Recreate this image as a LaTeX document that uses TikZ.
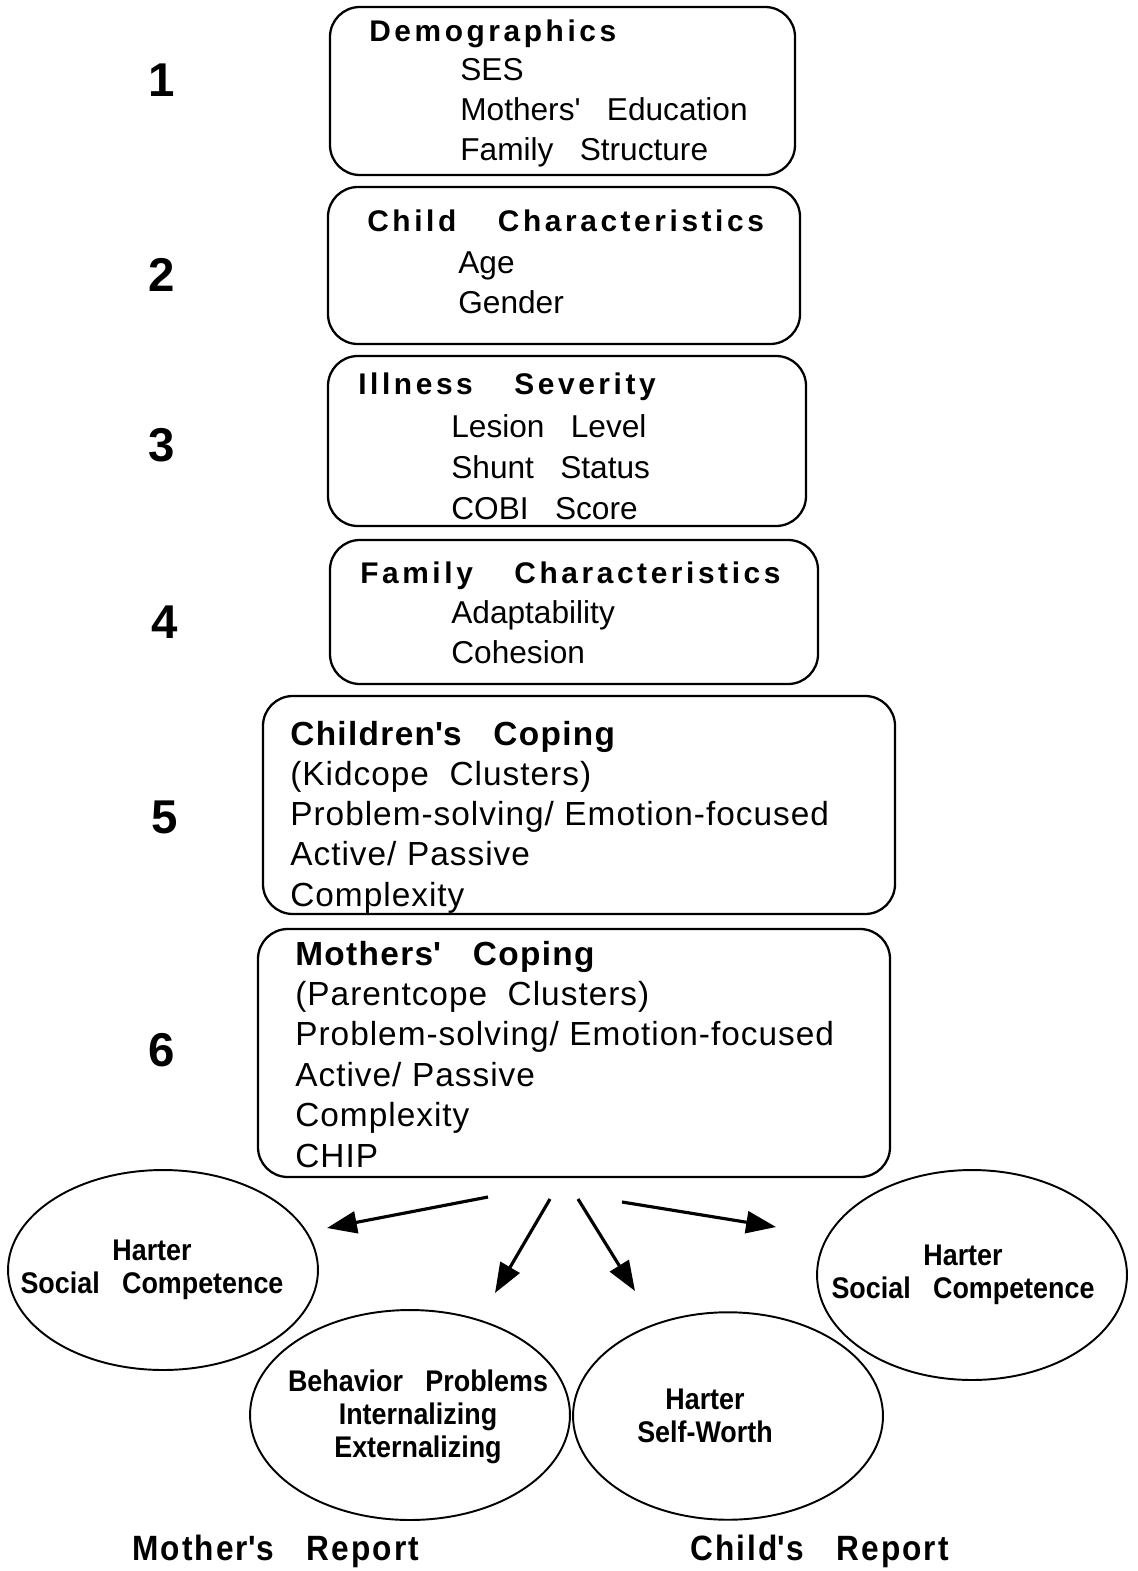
\documentclass[tikz,border=0pt]{standalone}
\usepackage{fontspec}
\setmainfont{Liberation Sans}[WordSpace=3]
\newfontfamily\headfont{Liberation Sans}[WordSpace=3.5,LetterSpace=12]
\newfontfamily\bigheadfont{Liberation Sans}[WordSpace=3,LetterSpace=4]
\newfontfamily\bigfont{Liberation Sans}[WordSpace=2,LetterSpace=3]
\newfontfamily\narrowfont{Liberation Sans}[FakeStretch=0.9,WordSpace=3]
\newfontfamily\reportfont{Liberation Sans}[FakeStretch=0.9,WordSpace=3,LetterSpace=6]
\newcommand\apos{\textquotesingle}
\usetikzlibrary{arrows.meta}
\usetikzlibrary{fit}
\usetikzlibrary{shapes.geometric}

\tikzset{
    stagebox/.style = {draw, line width=1.3pt, rounded corners=17pt, inner sep=0pt},
    stagenum/.style = {font=\fontsize{27}{30}\selectfont\bfseries},
    head/.style     = {anchor=base west, inner sep=0pt, font=\headfont\fontsize{17}{20}\selectfont\bfseries},
    item/.style     = {anchor=base west, inner sep=0pt, font=\fontsize{18}{22}\selectfont},
    bighead/.style  = {anchor=base west, inner sep=0pt, font=\bigheadfont\fontsize{19}{22}\selectfont\bfseries},
    bigitem/.style  = {anchor=base west, inner sep=0pt, font=\bigfont\fontsize{19}{22}\selectfont},
    outcome/.style  = {draw, ellipse, line width=1.1pt, inner sep=0pt},
    otext/.style    = {align=center, inner sep=0pt, font=\narrowfont\fontsize{17}{18.7}\selectfont\bfseries},
    report/.style   = {anchor=base west, inner sep=0pt, font=\reportfont\fontsize{20}{22}\selectfont\bfseries},
    link/.style     = {line width=1.8pt, -{Triangle[length=17pt,width=12.5pt]}}
}

\begin{document}
\begin{tikzpicture}[x=0.02cm, y=-0.02cm]
    \useasboundingbox (0,0) rectangle (1137,1571);

    % stages
    \node[stagebox, fit={(330,7) (795,175)}]    (demo)    {};
    \node[stagebox, fit={(328,187) (800,344)}]  (child)   {};
    \node[stagebox, fit={(328,356) (806,526)}]  (illness) {};
    \node[stagebox, fit={(330,540) (818,684)}]  (family)  {};
    \node[stagebox, fit={(263,696) (895,914)}]  (kidcope) {};
    \node[stagebox, fit={(258,929) (890,1177)}] (parent)  {};

    % stage numbers
    \node[stagenum] (n1) at (162,80)   {1};
    \node[stagenum] (n2) at (162,275)  {2};
    \node[stagenum] (n3) at (162,445)  {3};
    \node[stagenum] (n4) at (165,622)  {4};
    \node[stagenum] (n5) at (165,817)  {5};
    \node[stagenum] (n6) at (162,1050) {6};

    % box texts
    \node[head] (demohead) at (369,42) {Demographics};
    \foreach \txt [count=\i] in {SES, Mothers\apos{} Education, Family Structure}
        \node[item] (demo\i) at (460,41+40*\i) {\txt};

    \node[head] (childhead) at (367,232) {Child Characteristics};
    \foreach \txt [count=\i] in {Age, Gender}
        \node[item] (child\i) at (458,233+40*\i) {\txt};

    \node[head] (illhead) at (358,394) {Illness Severity};
    \foreach \txt [count=\i] in {Lesion Level, Shunt Status, COBI Score}
        \node[item] (ill\i) at (451,396+41*\i) {\txt};

    \node[head] (famhead) at (360,583) {Family Characteristics};
    \foreach \txt [count=\i] in {Adaptability, Cohesion}
        \node[item] (fam\i) at (451,583+40*\i) {\txt};

    \node[bighead] (kidhead) at (290,745) {Children\apos{}s Coping};
    \foreach \txt [count=\i] in {(Kidcope Clusters), Problem-solving/\hspace{6pt}Emotion-focused, Active/\hspace{6pt}Passive, Complexity}
        \node[bigitem] (kid\i) at (290,745+40.3*\i) {\txt};

    \node[bighead] (parhead) at (295,965) {Mothers\apos{} Coping};
    \foreach \txt [count=\i] in {(Parentcope Clusters), Problem-solving/\hspace{6pt}Emotion-focused, Active/\hspace{6pt}Passive, Complexity, CHIP}
        \node[bigitem] (par\i) at (295,965+40.4*\i) {\txt};

    % outcomes
    \node[outcome, minimum width=6.2cm, minimum height=4cm]    (msocial) at (163,1270) {};
    \node[outcome, minimum width=6.4cm, minimum height=4.2cm]  (behav)   at (410,1415) {};
    \node[outcome, minimum width=6.2cm, minimum height=4.15cm] (worth)   at (728,1416) {};
    \node[outcome, minimum width=6.2cm, minimum height=4.2cm]  (csocial) at (972,1275) {};

    \node[otext] (msocialtxt) at (152,1270) {Harter\\Social Competence};
    \node[otext] (behavtxt)   at (418,1417) {Behavior Problems\\Internalizing\\Externalizing};
    \node[otext] (worthtxt)   at (705,1416) {Harter\\Self-Worth};
    \node[otext] (csocialtxt) at (963,1275) {Harter\\Social Competence};

    \node[report] (mreport) at (132,1560) {Mother\apos{}s Report};
    \node[report] (creport) at (690,1560) {Child\apos{}s Report};

    % arrows
    \coordinate (s1) at (488,1197);
    \coordinate (s2) at (550,1199);
    \coordinate (s3) at (578,1199);
    \coordinate (s4) at (622,1202);
    \coordinate (t1) at (327,1228);
    \coordinate (t2) at (495,1293);
    \coordinate (t3) at (635,1291);
    \coordinate (t4) at (776,1227);
    \foreach \k in {1,...,4}
        \draw[link] (s\k) -- (t\k);

\end{tikzpicture}
\end{document}
